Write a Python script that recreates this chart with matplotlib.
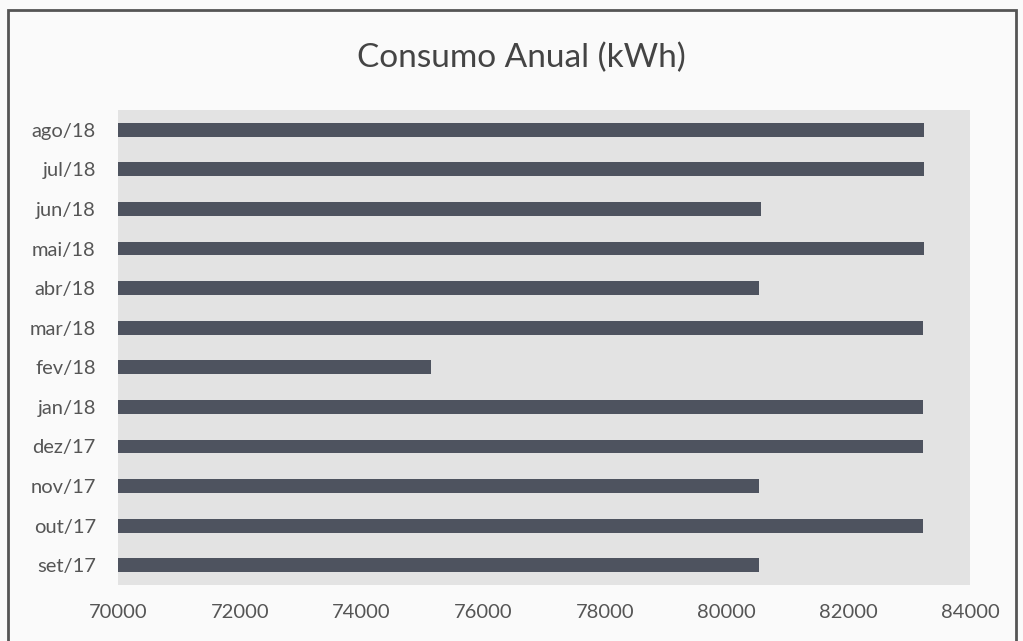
import matplotlib.pyplot as plt
from matplotlib.patches import Rectangle

# meses (de baixo para cima) e consumo em kWh
meses = ["set/17", "out/17", "nov/17", "dez/17", "jan/18", "fev/18",
         "mar/18", "abr/18", "mai/18", "jun/18", "jul/18", "ago/18"]
consumo = [80530, 83220, 80530, 83220, 83220, 75140,
           83230, 80540, 83240, 80560, 83250, 83250]
xticks = [70000, 72000, 74000, 76000, 78000, 80000, 82000, 84000]

plt.rcParams['font.family'] = ['Lato', 'DejaVu Sans']

fig = plt.figure(figsize=(10.23, 6.41), dpi=100)
fig.patch.set_facecolor('#fafafa')
ax = fig.add_axes([118/1023, 56/641, 852/1023, 475/641])
ax.set_facecolor('#e3e3e3')

pos = list(range(len(meses)))
# barras comecam no inicio do eixo (70000)
ax.barh(pos, [c - 70000 for c in consumo], left=70000, height=0.35, color='#4e535f')

ax.set_xlim(70000, 84000)
ax.set_ylim(-0.5, 11.5)
ax.set_yticks(pos)
ax.set_yticklabels(meses)
ax.set_xticks(xticks)
ax.set_xticklabels([str(t) for t in xticks])
ax.tick_params(axis='y', length=0, pad=16, labelsize=14.5, labelcolor='#555555')
ax.tick_params(axis='x', length=0, pad=14, labelsize=14.5, labelcolor='#555555')
for s in ax.spines.values():
    s.set_visible(False)

fig.text(521/1023, 1 - 58/641, "Consumo Anual (kWh)", ha='center', va='center',
         fontsize=24, color='#444444')

# moldura do grafico (digitalizado)
fig.patches.append(Rectangle((8/1023, -0.05), 1008/1023, 1 - 10/641 + 0.05,
                             transform=fig.transFigure, fill=False,
                             edgecolor='#555555', linewidth=2))

fig.savefig('out.png', dpi=100, facecolor=fig.get_facecolor())
